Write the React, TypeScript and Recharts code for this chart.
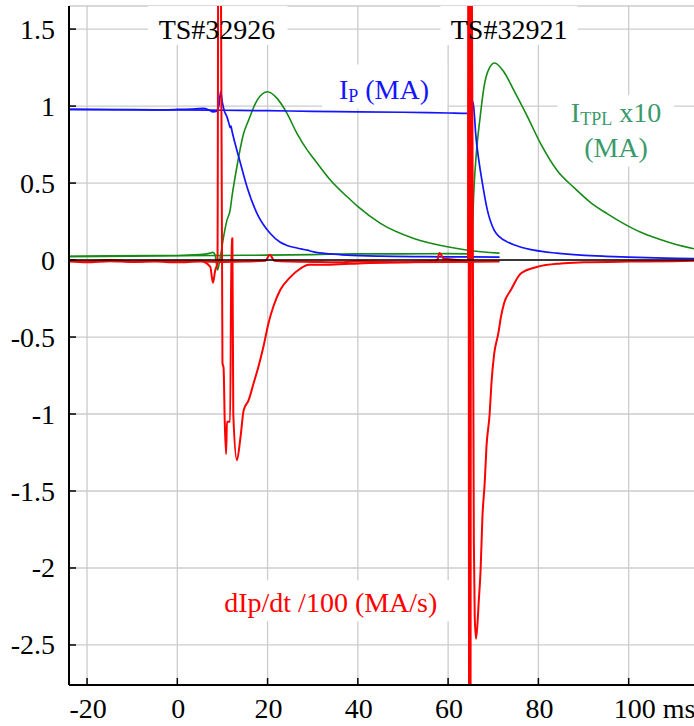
import React from 'react';
import {
  LineChart,
  Line,
  XAxis,
  YAxis,
  CartesianGrid,
  ReferenceLine,
  ReferenceArea,
  ReferenceDot,
} from 'recharts';

const FONT = 'Liberation Serif';

// ---- axes ----
const xDomain = [-24, 114.7];
const yDomain = [-2.76, 1.65];
const xTicks = [-20, 0, 20, 40, 60, 80, 100];
const xTickLabels = ['-20', '0', '20', '40', '60', '80', '100 ms'];
const yTicks = [-2.5, -2, -1.5, -1, -0.5, 0, 0.5, 1, 1.5];
const yTickLabels = ['-2.5', '-2', '-1.5', '-1', '-0.5', '0', '0.5', '1', '1.5'];

// ---- shot #32926 ----
const ip32926T = [-24, -15, -5, 0, 4, 5.8, 7, 7.9, 8.6, 9.2, 9.6, 10.0, 10.4, 11.0, 11.5, 11.7, 11.9, 12.1, 12.8, 14.0, 15.45, 17.7, 20.6, 22.8, 24.3, 26.5, 28.8, 30.2, 33.9, 37.6, 45, 55, 65, 71.4];
const ip32926V = [0.978, 0.976, 0.975, 0.978, 0.982, 0.985, 0.975, 0.962, 0.965, 1.0, 1.093, 1.02, 0.97, 0.93, 0.88, 0.86, 0.87, 0.84, 0.757, 0.627, 0.475, 0.3, 0.172, 0.115, 0.095, 0.078, 0.064, 0.053, 0.04, 0.032, 0.025, 0.022, 0.02, 0.019];

const itpl32926T = [-24, -15, -5, 0, 5, 7.3, 7.9, 8.4, 8.9, 9.4, 9.9, 10.25, 11.0, 11.7, 12.1, 13.2, 14.7, 15.8, 17.7, 20.0, 22.1, 24.3, 26.5, 28.8, 30.2, 33.9, 38.4, 40.1, 45, 52.4, 59.8, 64.3, 71.4];
const itpl32926V = [0.025, 0.028, 0.03, 0.03, 0.035, 0.045, 0.05, 0.03, -0.065, 0.0, 0.086, 0.151, 0.259, 0.324, 0.41, 0.606, 0.823, 0.909, 1.039, 1.093, 1.05, 0.953, 0.823, 0.714, 0.66, 0.52, 0.39, 0.345, 0.238, 0.14, 0.086, 0.064, 0.045];

const dip32926T = [-24, -20, -15, -10, -5, 0, 5, 7.3, 7.9, 8.4, 8.9, 9.14, 9.5, 10.0, 10.25, 10.5, 10.8, 11.0, 11.7, 12.0, 12.2, 12.4, 13.2, 14.0, 14.7, 15.8, 16.9, 18.0, 19.1, 20.2, 21.3, 22.8, 25.1, 27.3, 29.1, 33.9, 41.3, 50, 60, 71.4];
const dip32926V = [-0.005, -0.01, 0.0, -0.01, -0.005, -0.01, -0.005, -0.044, -0.148, -0.066, -0.02, 3, 3, -0.67, -0.7, -1.04, -1.26, -1.05, -1.05, 0.14, 0.14, -1.0, -1.3, -1.15, -0.975, -0.91, -0.8, -0.69, -0.56, -0.41, -0.3, -0.195, -0.109, -0.055, -0.03, -0.03, -0.02, -0.015, -0.012, -0.01];

// ---- shot #32921 ----
const ip32921T = [-24, -10, 0, 10, 20, 30, 40, 50, 60, 64.4, 64.5, 64.56, 64.65, 65.5, 65.8, 66.1, 66.8, 67.6, 68.7, 70.2, 71.4, 73.1, 76, 79, 84, 89.4, 95, 102, 108, 114.7];
const ip32921V = [0.978, 0.977, 0.975, 0.973, 0.97, 0.966, 0.963, 0.96, 0.955, 0.953, 0.953, 0.714, 0.95, 1.028, 0.95, 0.823, 0.649, 0.498, 0.324, 0.194, 0.15, 0.118, 0.085, 0.064, 0.045, 0.032, 0.024, 0.017, 0.012, 0.01];

const itpl32921T = [-24, -10, 0, 10, 20, 30, 40, 50, 60, 64.5, 65.0, 65.2, 65.7, 66.3, 67.1, 67.95, 69.1, 70.3, 72.4, 74.6, 77.6, 80.5, 84.2, 87.9, 91.5, 95.3, 99, 102.7, 106.5, 110.1, 114.7];
const itpl32921V = [0.022, 0.025, 0.028, 0.03, 0.032, 0.035, 0.04, 0.04, 0.042, 0.04, 0.035, 0.06, 0.45, 0.71, 0.93, 1.125, 1.245, 1.28, 1.22, 1.1, 0.93, 0.756, 0.58, 0.47, 0.375, 0.3, 0.235, 0.18, 0.138, 0.104, 0.072];

const dip32921T = [-24, -20, -15, -10, -5, 0, 5, 10, 15, 19.5, 20.5, 21.5, 25, 30, 35, 40, 45, 50, 55, 57.5, 58.1, 59, 62, 64.4, 64.5, 64.65, 64.8, 64.95, 65.1, 65.7, 65.9, 66.2, 66.8, 67.2, 67.6, 68.1, 68.5, 69.2, 69.6, 70.2, 71.1, 71.7, 72.4, 73.9, 76.1, 79.8, 85, 90, 100, 110, 114.7];
const dip32921V = [-0.01, -0.015, -0.008, -0.012, -0.01, -0.015, -0.01, -0.012, -0.01, -0.005, 0.035, -0.005, -0.01, -0.012, -0.015, -0.01, -0.012, -0.015, -0.01, -0.005, 0.045, 0.01, 0.0, -0.01, 4, -4, 4, -4, 3, -1.83, -2.32, -2.46, -2.21, -2.01, -1.67, -1.45, -1.21, -1.0, -0.8, -0.61, -0.48, -0.37, -0.28, -0.195, -0.087, -0.044, -0.022, -0.015, -0.01, -0.008, -0.005];

const BLUE = '#1414ff';
const GREEN = '#168a16';
const RED = '#ff0000';
const LABEL_GREEN = '#3a9a6c';

const toPts = (t: number[], v: number[]) => t.map((x, i) => ({ t: x, v: v[i] }));

// inward tick marks only (labels are drawn as reference labels below)
const leftTick = (props: any) => {
  const { x, y, payload } = props;
  return <line key={'yl' + payload.value} x1={x} y1={y} x2={x + 7} y2={y} stroke="#000" strokeWidth={1.5} />;
};
const rightTick = (props: any) => {
  const { x, y, payload } = props;
  return <line key={'yr' + payload.value} x1={x} y1={y} x2={x - 7} y2={y} stroke="#000" strokeWidth={1.5} />;
};
const bottomTick = (props: any) => {
  const { x, y, payload } = props;
  return <line key={'xb' + payload.value} x1={x} y1={y} x2={x} y2={y - 7} stroke="#000" strokeWidth={1.5} />;
};
const topTick = (props: any) => {
  const { x, y, payload } = props;
  return <line key={'xt' + payload.value} x1={x} y1={y} x2={x} y2={y + 7} stroke="#000" strokeWidth={1.5} />;
};

type Part = { s: string; sub?: boolean };

const TextLabel = (props: any) => {
  const { viewBox, parts, color, anchor, dx = 0, dy = 0 } = props;
  const cx = viewBox.x + viewBox.width / 2 + dx;
  const cy = viewBox.y + viewBox.height / 2 + dy;
  const ps: Part[] = parts;
  let prevSub = false;
  return (
    <text
      x={cx}
      y={cy}
      textAnchor={anchor || 'middle'}
      fill={color}
      style={{ fontFamily: FONT, fontSize: '28px', whiteSpace: 'pre' }}
    >
      {ps.map((p, k) => {
        let sdy = 0;
        if (p.sub && !prevSub) sdy = 3;
        if (!p.sub && prevSub) sdy = -3;
        prevSub = !!p.sub;
        return (
          <tspan key={k} dy={sdy} style={{ fontSize: p.sub ? '18px' : '28px' }}>
            {p.s}
          </tspan>
        );
      })}
    </text>
  );
};

export default function App() {
  const series = [
    { key: 'itpl32926', data: toPts(itpl32926T, itpl32926V), color: GREEN, w: 1.6 },
    { key: 'itpl32921', data: toPts(itpl32921T, itpl32921V), color: GREEN, w: 1.6 },
    { key: 'ip32926', data: toPts(ip32926T, ip32926V), color: BLUE, w: 1.7 },
    { key: 'ip32921', data: toPts(ip32921T, ip32921V), color: BLUE, w: 1.7 },
    { key: 'dip32921', data: toPts(dip32921T, dip32921V), color: RED, w: 2 },
    { key: 'dip32926', data: toPts(dip32926T, dip32926V), color: RED, w: 2 },
  ];

  const boxes = [
    { x1: -6.46, x2: 24.4, y1: 1.396, y2: 1.65 },
    { x1: 58.3, x2: 88.7, y1: 1.396, y2: 1.65 },
    { x1: 32.1, x2: 59.8, y1: 0.985, y2: 1.27 },
    { x1: 84.2, x2: 110.1, y1: 0.606, y2: 1.071 },
    { x1: 8.0, x2: 61.0, y1: -2.346, y2: -2.08 },
  ];

  const labels = [
    { x: 8.79, y: 1.438, parts: [{ s: 'TS#32926' }], color: '#000', anchor: 'middle' },
    { x: 73.5, y: 1.438, parts: [{ s: 'TS#32921' }], color: '#000', anchor: 'middle' },
    { x: 35.8, y: 1.044, parts: [{ s: 'I' }, { s: 'P', sub: true }, { s: ' (MA)' }], color: BLUE, anchor: 'start' },
    { x: 97.2, y: 0.898, parts: [{ s: 'I' }, { s: 'TPL', sub: true }, { s: ' x10' }], color: LABEL_GREEN, anchor: 'middle' },
    { x: 97.2, y: 0.671, parts: [{ s: '(MA)' }], color: LABEL_GREEN, anchor: 'middle' },
    { x: 34.0, y: -2.286, parts: [{ s: 'dIp/dt /100 (MA/s)' }], color: RED, anchor: 'middle' },
  ];

  return (
    <div
      style={{
        position: 'absolute',
        left: 0,
        top: 0,
        width: 694,
        height: 726,
        overflow: 'hidden',
        background: '#fff',
        fontFamily: FONT,
      }}
    >
      <LineChart width={697} height={726} margin={{ top: 6, right: 2, bottom: 0, left: 0 }}>
        <CartesianGrid xAxisId="b" yAxisId="l" stroke="#cccccc" strokeWidth={1.3} />
        <XAxis
          xAxisId="b"
          type="number"
          dataKey="t"
          domain={xDomain}
          ticks={xTicks}
          allowDataOverflow
          interval={0}
          height={41}
          tickSize={0}
          tickMargin={0}
          tickLine={false}
          tick={bottomTick}
          axisLine={{ stroke: '#000', strokeWidth: 2 }}
        />
        <XAxis
          xAxisId="top"
          orientation="top"
          type="number"
          dataKey="t"
          domain={xDomain}
          ticks={xTicks}
          allowDataOverflow
          interval={0}
          height={0}
          tickSize={0}
          tickMargin={0}
          tickLine={false}
          tick={topTick}
          axisLine={{ stroke: '#000', strokeWidth: 2 }}
        />
        <YAxis
          yAxisId="l"
          type="number"
          domain={yDomain}
          ticks={yTicks}
          allowDataOverflow
          interval={0}
          width={69}
          tickSize={0}
          tickMargin={0}
          tickLine={false}
          tick={leftTick}
          axisLine={{ stroke: '#000', strokeWidth: 2 }}
        />
        <YAxis
          yAxisId="r"
          orientation="right"
          type="number"
          domain={yDomain}
          ticks={yTicks}
          allowDataOverflow
          interval={0}
          width={0}
          tickSize={0}
          tickMargin={0}
          tickLine={false}
          tick={rightTick}
          axisLine={{ stroke: '#000', strokeWidth: 2 }}
        />
        {boxes.map((b, i) => (
          <ReferenceArea
            key={'box' + i}
            xAxisId="b"
            yAxisId="l"
            x1={b.x1}
            x2={b.x2}
            y1={b.y1}
            y2={b.y2}
            fill="#ffffff"
            fillOpacity={1}
            stroke="none"
            ifOverflow="hidden"
          />
        ))}
        {series.map((s) => (
          <Line
            key={s.key}
            xAxisId="b"
            yAxisId="l"
            data={s.data}
            dataKey="v"
            type="monotoneX"
            stroke={s.color}
            strokeWidth={s.w}
            dot={false}
            activeDot={false}
            isAnimationActive={false}
          />
        ))}
        <ReferenceLine xAxisId="b" yAxisId="l" y={0} stroke="#000" strokeWidth={1.5} />
        {labels.map((l, i) => (
          <ReferenceDot
            key={'lab' + i}
            xAxisId="b"
            yAxisId="l"
            x={l.x}
            y={l.y}
            r={1}
            fill="none"
            stroke="none"
            label={<TextLabel parts={l.parts} color={l.color} anchor={l.anchor} />}
          />
        ))}
        {yTicks.map((v, i) => (
          <ReferenceDot
            key={'ytl' + i}
            xAxisId="b"
            yAxisId="l"
            x={xDomain[0]}
            y={v}
            r={1}
            fill="none"
            stroke="none"
            ifOverflow="visible"
            label={<TextLabel parts={[{ s: yTickLabels[i] }]} color="#000" anchor="end" dx={-14} dy={9.5} />}
          />
        ))}
        {xTicks.map((v, i) => (
          <ReferenceDot
            key={'xtl' + i}
            xAxisId="b"
            yAxisId="l"
            x={v}
            y={yDomain[0]}
            r={1}
            fill="none"
            stroke="none"
            ifOverflow="visible"
            label={
              <TextLabel
                parts={[{ s: xTickLabels[i] }]}
                color="#000"
                anchor={i === xTicks.length - 1 ? 'start' : 'middle'}
                dx={i === xTicks.length - 1 ? -15 : 1}
                dy={33}
              />
            }
          />
        ))}
      </LineChart>
    </div>
  );
}
